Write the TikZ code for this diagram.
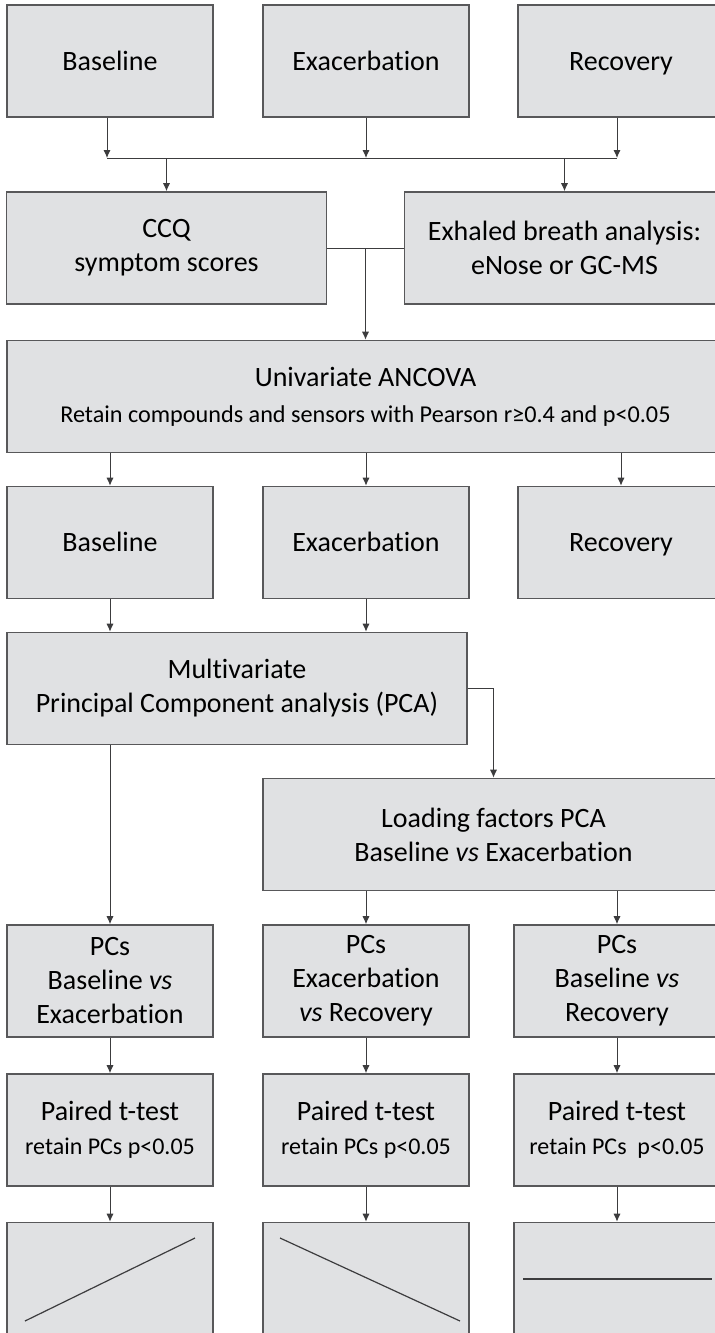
\documentclass[tikz,border=0pt]{standalone}
\usepackage{fontspec}
\setmainfont{Carlito}[Ligatures=NoCommon]
\usepackage{tikz}
\usetikzlibrary{arrows.meta}

\definecolor{boxfill}{RGB}{224,225,227}
\definecolor{boxline}{RGB}{88,88,90}
\definecolor{linkline}{RGB}{60,60,62}

\begin{document}
\begin{tikzpicture}[x=0.5pt,y=-0.5pt,>=Latex,
  box/.style={draw=boxline,line width=0.8pt,fill=boxfill,minimum height=56pt,align=center,inner sep=2pt,font=\fontsize{14}{17}\selectfont},
  smallbox/.style={box,minimum width=103pt},
  phase/.style={smallbox,text height=9pt,text depth=0pt},
  widebox/.style={box,minimum width=160pt},
  arr/.style={draw=linkline,line width=0.5pt,-{Latex[length=4pt,width=3.6pt]}},
  lnk/.style={draw=linkline,line width=0.5pt}]
\useasboundingbox (0,0) rectangle (715,1333);
\clip (0,0) rectangle (715,1333);
% time points
\node[phase] (base1) at (110,61) {Baseline};
\node[phase] (exac1) at (366,61) {Exacerbation};
\node[phase] (rec1) at (621,61) {Recovery};
\coordinate (busL) at (107,158);
\coordinate (busR) at (617,158);
\draw[arr] (base1.south -| busL)--(busL);
\draw[arr] (exac1.south)--(exac1.south |- busL);
\draw[arr] (rec1.south -| busR)--(busR);
\draw[lnk] (busL)--(busR);
% measurements
\node[widebox] (ccq) at (166.5,248) {CCQ\\symptom scores};
\node[widebox] (breath) at (564.5,248) {Exhaled breath analysis:\\eNose or GC-MS};
\draw[arr] (ccq.north |- busL)--(ccq.north);
\draw[arr] (breath.north |- busL)--(breath.north);
\draw[lnk] (ccq.east)--(breath.west);
% univariate step
\node[box,minimum width=358.5pt] (ancova) at (365.5,396.5) {Univariate ANCOVA\\[1pt]{\fontsize{12.1}{14}\selectfont Retain compounds and sensors with Pearson r≥0.4 and p<0.05}};
\draw[arr] (ancova.north |- ccq.east)--(ancova.north);
\node[phase] (base2) at (110,542.5) {Baseline};
\node[phase] (exac2) at (366,542.5) {Exacerbation};
\node[phase] (rec2) at (621,542.5) {Recovery};
\draw[arr] (base2.north |- ancova.south)--(base2.north);
\draw[arr] (exac2.north |- ancova.south)--(exac2.north);
\draw[arr] (rec2.north |- ancova.south)--(rec2.north);
% multivariate step
\node[box,minimum width=230pt] (multi) at (237,688.5) {Multivariate\\Principal Component analysis (PCA)};
\draw[arr] (base2.south)--(base2.south |- multi.north);
\draw[arr] (exac2.south)--(exac2.south |- multi.north);
\node[box,minimum width=230.5pt] (load) at (493.5,834.5) {Loading factors PCA\\Baseline \textit{vs} Exacerbation};
\draw[arr] (multi.east) -| (load.north);
% comparisons
\node[smallbox] (pcs1) at (110,981) {PCs\\Baseline \textit{vs}\\Exacerbation};
\node[smallbox] (pcs2) at (366,981) {PCs\\Exacerbation\\\textit{vs} Recovery};
\node[smallbox] (pcs3) at (617,981) {PCs\\Baseline \textit{vs}\\Recovery};
\draw[arr] (multi.south -| pcs1)--(pcs1.north);
\draw[arr] (load.south -| pcs2)--(pcs2.north);
\draw[arr] (load.south -| pcs3)--(pcs3.north);
\node[smallbox] (ttest1) at (110,1130) {Paired t-test\\{\fontsize{12}{14}\selectfont retain PCs p<0.05}};
\node[smallbox] (ttest2) at (366,1130) {Paired t-test\\{\fontsize{12}{14}\selectfont retain PCs p<0.05}};
\node[smallbox] (ttest3) at (617,1130) {Paired t-test\\{\fontsize{12}{14}\selectfont retain PCs\ \ p<0.05}};
\draw[arr] (pcs1.south)--(ttest1.north);
\draw[arr] (pcs2.south)--(ttest2.north);
\draw[arr] (pcs3.south)--(ttest3.north);
% trends
\node[smallbox] (trend1) at (110,1278.5) {};
\node[smallbox] (trend2) at (366,1278.5) {};
\node[smallbox] (trend3) at (617,1278.5) {};
\draw[arr] (ttest1.south)--(trend1.north);
\draw[arr] (ttest2.south)--(trend2.north);
\draw[arr] (ttest3.south)--(trend3.north);
\draw[lnk,line width=0.6pt] (25,1321)--(195,1238);
\draw[lnk,line width=0.6pt] (280,1238)--(460,1321);
\draw[lnk,line width=0.6pt] (523,1279)--(712,1279);
\end{tikzpicture}
\end{document}
